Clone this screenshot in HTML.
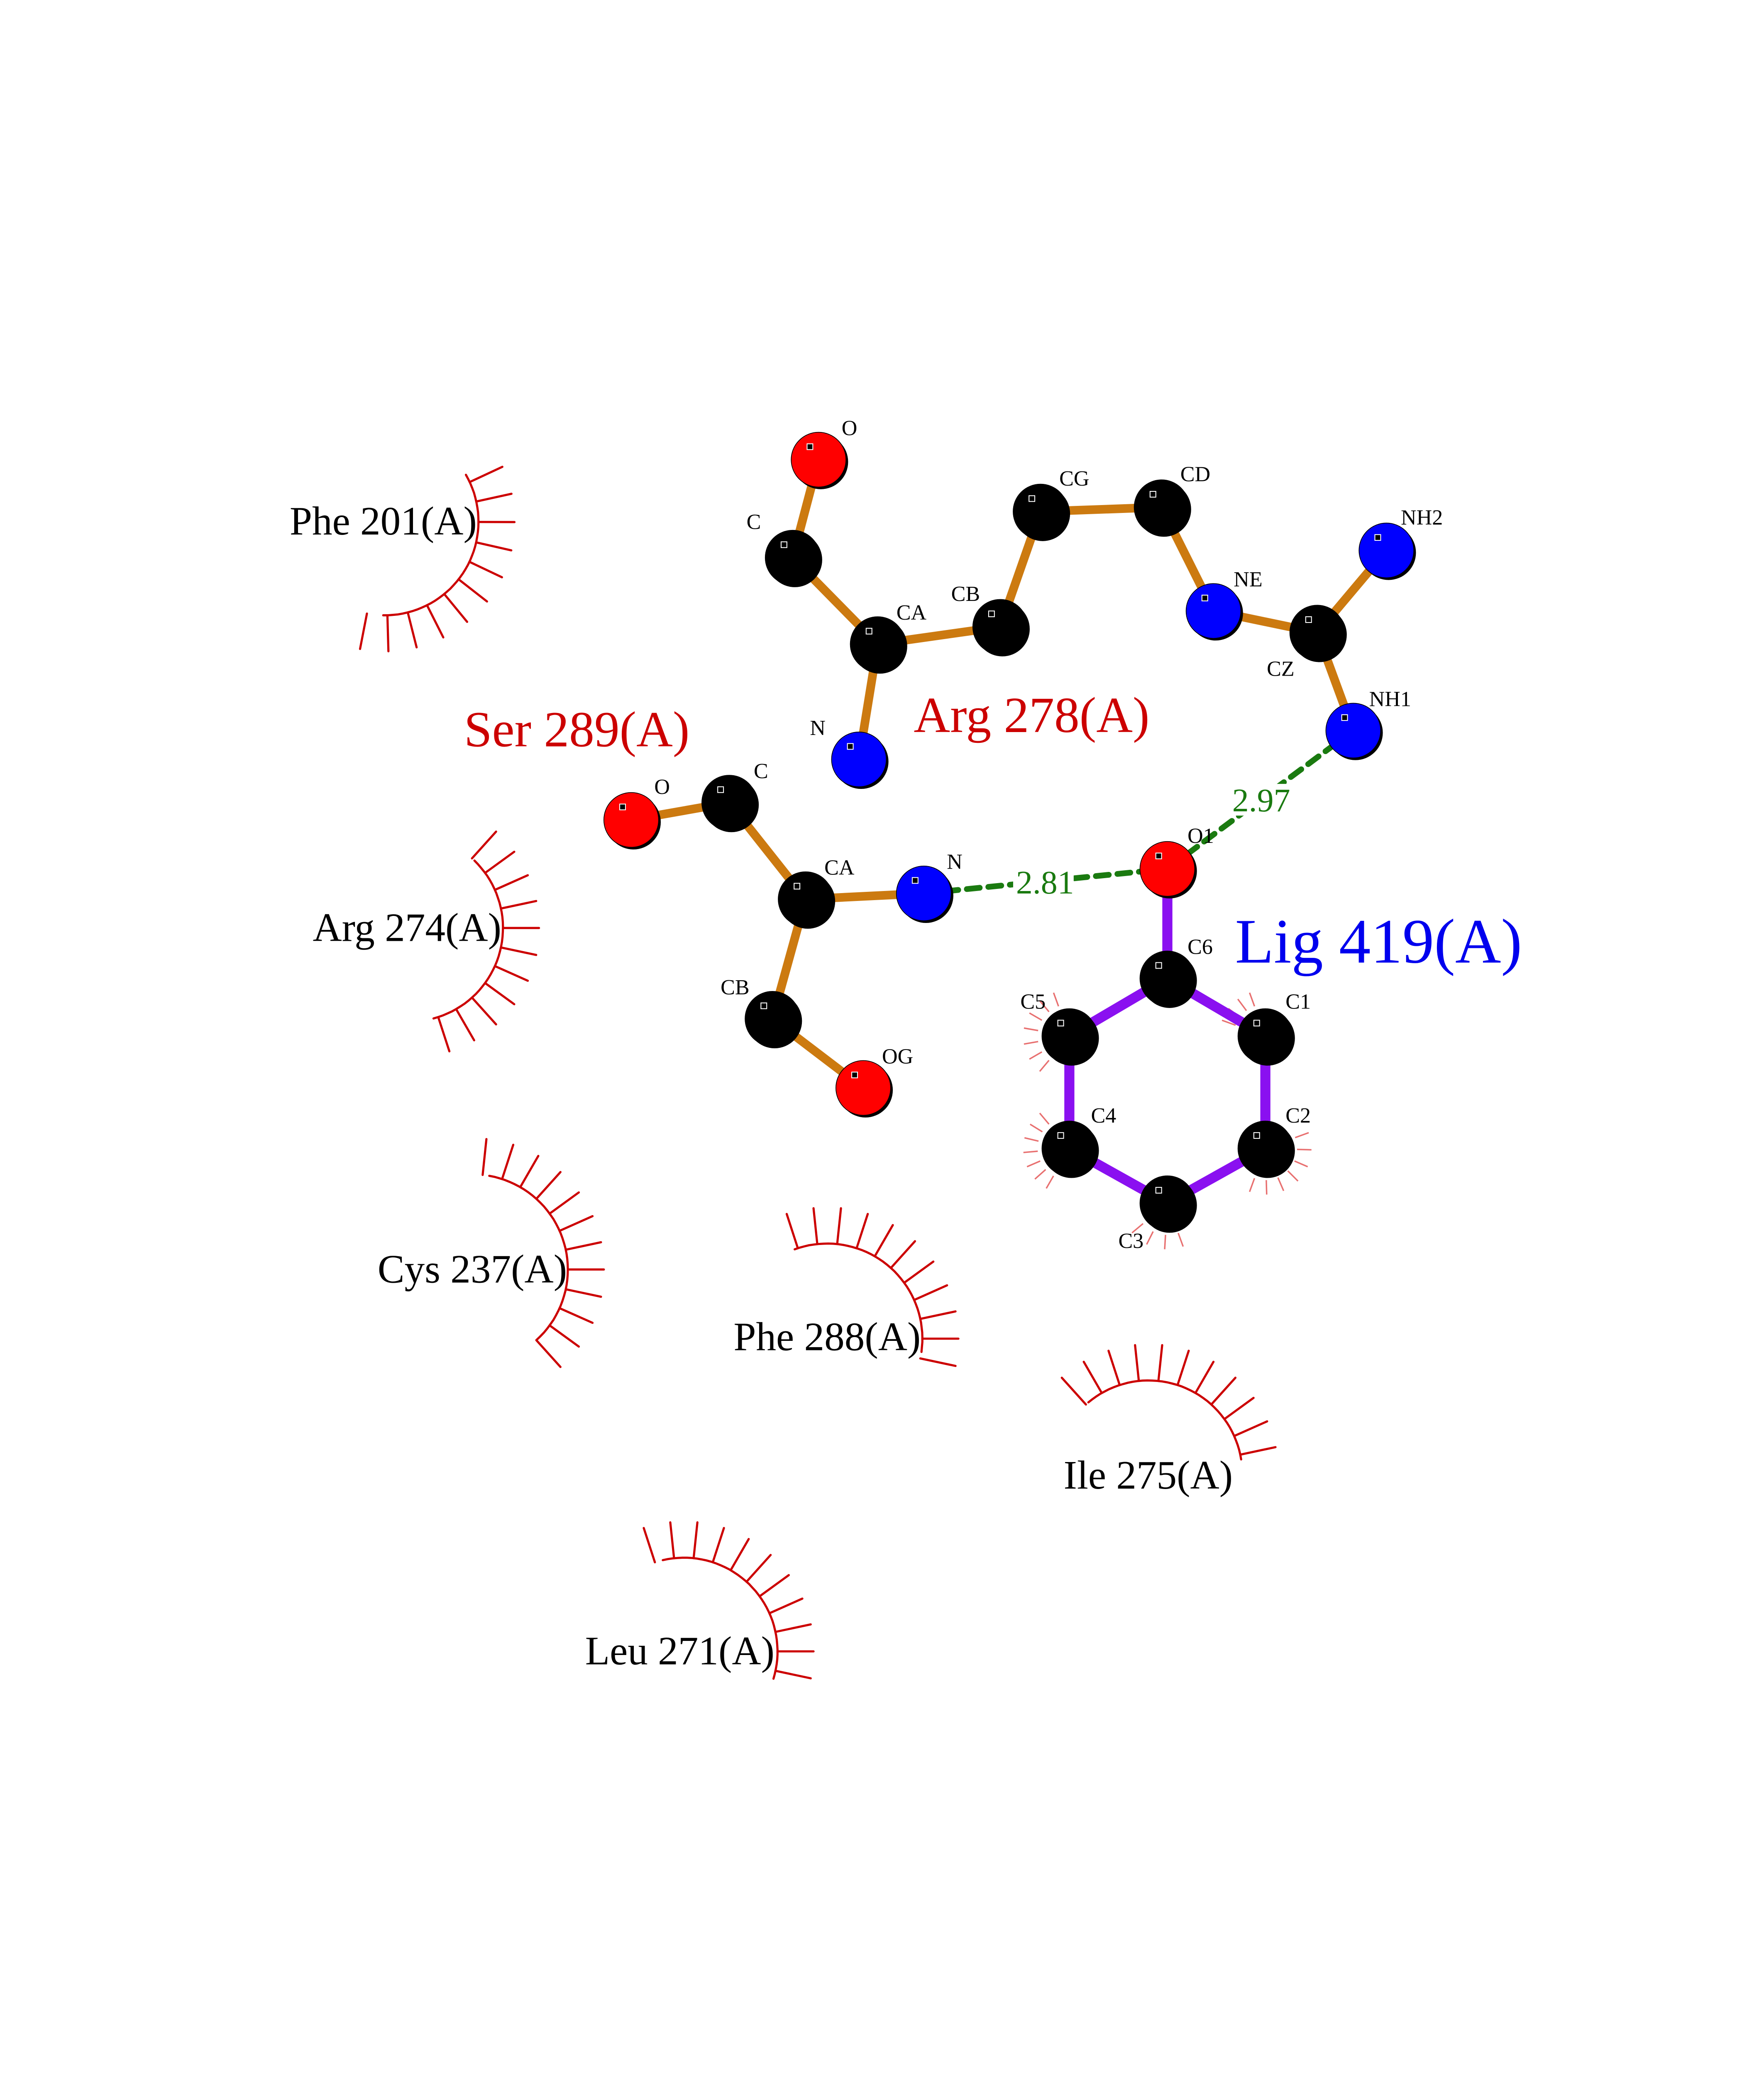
<!DOCTYPE html>
<html><head><meta charset="utf-8"><style>
html,body{margin:0;padding:0;background:#fff;width:4250px;height:5500px;overflow:hidden;}
svg{display:block;position:absolute;left:0;top:0;}
text{font-family:"Liberation Serif",serif;}
</style></head><body>
<svg id="s" width="4250" height="5500" viewBox="0 0 1224 1584" xmlns="http://www.w3.org/2000/svg">
<g id="arcs" stroke="#cc0000" stroke-width="1.5" fill="none" stroke-linecap="round"></g>
<g transform="translate(6,7)">
<g id="lspk" stroke="#e87070" stroke-width="1" fill="none"></g>
<g stroke="#cc7a10" stroke-width="6">
<line x1="562" y1="312" x2="544" y2="380"/><line x1="544" y1="380" x2="603" y2="440"/>
<line x1="603" y1="440" x2="590" y2="520"/><line x1="603" y1="440" x2="688" y2="428"/>
<line x1="688" y1="428" x2="716" y2="348"/><line x1="716" y1="348" x2="800" y2="345"/>
<line x1="800" y1="345" x2="836" y2="417"/><line x1="836" y1="417" x2="908" y2="432"/>
<line x1="908" y1="432" x2="956" y2="375"/><line x1="908" y1="432" x2="933" y2="500"/>
<line x1="432" y1="562" x2="500" y2="550"/><line x1="500" y1="550" x2="553" y2="617"/>
<line x1="553" y1="617" x2="635" y2="613"/><line x1="553" y1="617" x2="530" y2="700"/>
<line x1="530" y1="700" x2="593" y2="748"/>
</g>
<g stroke="#8a10f0" stroke-width="7" stroke-linecap="round">
<line x1="804" y1="596" x2="804" y2="672"/>
<polyline fill="none" points="804,672 872,712 872,790 804,828 736,790 736,712 804,672"/>
</g>
<g stroke="#1a7a10" stroke-width="4" stroke-dasharray="9,6" stroke-linecap="round">
<line x1="635" y1="613" x2="804" y2="596"/><line x1="933" y1="500" x2="804" y2="596"/>
</g>
<g id="atoms"></g>
<g font-size="15" fill="#000">
<text x="578" y="295">O</text><text x="512" y="360">C</text><text x="616" y="423">CA</text>
<text x="556" y="503">N</text><text x="654" y="410">CB</text><text x="729" y="330">CG</text>
<text x="813" y="327">CD</text><text x="850" y="400">NE</text><text x="873" y="462">CZ</text>
<text x="966" y="357">NH2</text><text x="944" y="483">NH1</text>
<text x="448" y="544">O</text><text x="517" y="533">C</text><text x="566" y="600">CA</text>
<text x="651" y="596">N</text><text x="494" y="683">CB</text><text x="606" y="731">OG</text>
<text x="818" y="578">O1</text><text x="818" y="655">C6</text><text x="886" y="693">C1</text>
<text x="886" y="772">C2</text><text x="770" y="859">C3</text><text x="751" y="772">C4</text>
<text x="702" y="693">C5</text>
</g>
</g>
<rect x="703" y="601" width="42" height="22" fill="#fff"/>
<rect x="853" y="544" width="42" height="22" fill="#fff"/>
<g font-size="23" fill="#1a7a10"><text x="705" y="620">2.81</text><text x="855" y="563">2.97</text></g>
<text x="634" y="508" font-size="35" fill="#cc0000">Arg 278(A)</text>
<text x="322" y="518" font-size="35" fill="#cc0000">Ser 289(A)</text>
<text x="857" y="668" font-size="44" fill="#0000ee">Lig 419(A)</text>
<g font-size="28" fill="#000">
<text x="201" y="371">Phe 201(A)</text><text x="217" y="653">Arg 274(A)</text>
<text x="262" y="890">Cys 237(A)</text><text x="509" y="937">Phe 288(A)</text>
<text x="738" y="1033">Ile 275(A)</text><text x="406" y="1155">Leu 271(A)</text>
</g>
<text x="58" y="1470" font-size="14">.</text>
</svg>
<script>
var NS="http://www.w3.org/2000/svg";
function el(p,t,a){var e=document.createElementNS(NS,t);for(var k in a)e.setAttribute(k,a[k]);p.appendChild(e);return e;}
var arcs=document.getElementById("arcs");
function hyd(cx,cy,r,a0,a1,s0,s1,n){var d="";for(var i=0;i<=40;i++){var a=(a0+(a1-a0)*i/40)*Math.PI/180;d+=(i?"L":"M")+(cx+r*Math.cos(a)).toFixed(1)+","+(cy+r*Math.sin(a)).toFixed(1);}
el(arcs,"path",{d:d});for(var j=0;j<n;j++){var a=(s0+(s1-s0)*j/(n-1))*Math.PI/180;el(arcs,"line",{x1:cx+r*Math.cos(a),y1:cy+r*Math.sin(a),x2:cx+(r+25)*Math.cos(a),y2:cy+(r+25)*Math.sin(a)});}}
hyd(267,362,65,-30,91,-25,101,11);
hyd(284,644,65,-46,75,-48,72,11);
hyd(328,881,66,-80,48,-84,48,12);
hyd(574,929,66,-110,8,-108,12,11);
hyd(797,1023,65,-130,-9,-132,-12,11);
hyd(474.5,1146,65,-103,17,-108,12,11);
var ls=document.getElementById("lspk");
function sp(cx,cy,a0,a1,n){for(var j=0;j<n;j++){var a=(a0+(a1-a0)*j/(n-1))*Math.PI/180;el(ls,"line",{x1:cx+22*Math.cos(a),y1:cy+22*Math.sin(a),x2:cx+32*Math.cos(a),y2:cy+32*Math.sin(a)});}}
sp(872,712,-160,-110,4);sp(872,790,-20,110,7);sp(804,828,70,140,4);sp(736,790,120,230,7);sp(736,712,130,250,7);
var at=document.getElementById("atoms");
var A=[[562,312,"r"],[544,380,"k"],[603,440,"k"],[590,520,"b"],[688,428,"k"],[716,348,"k"],[800,345,"k"],[836,417,"b"],[908,432,"k"],[956,375,"b"],[933,500,"b"],
[432,562,"r"],[500,550,"k"],[553,617,"k"],[635,613,"b"],[530,700,"k"],[593,748,"r"],
[804,596,"r"],[804,672,"k"],[872,712,"k"],[872,790,"k"],[804,828,"k"],[736,790,"k"],[736,712,"k"]];
var C={r:"#ff0000",k:"#000",b:"#0000ff"};
A.forEach(function(p){el(at,"circle",{cx:p[0]+1.5,cy:p[1]+1.5,r:19,fill:"#000"});el(at,"circle",{cx:p[0],cy:p[1],r:19,fill:C[p[2]],stroke:"#000","stroke-width":0.5});
el(at,"rect",{x:p[0]-8,y:p[1]-11,width:4,height:4,fill:"#000",stroke:"#fff","stroke-width":0.6});});
</script>
</body></html>
